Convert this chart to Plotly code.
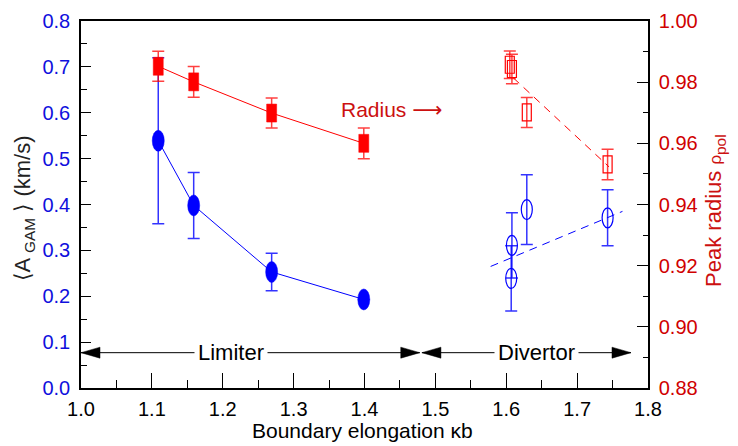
import plotly.graph_objects as go

# ---------------- data ----------------
# Limiter discharges
x_lim = [1.109, 1.159, 1.269, 1.399]
a_lim = [0.539, 0.398, 0.253, 0.193]          # <A_GAM> (km/s), left axis
a_lim_err = [0.181, 0.072, 0.041, 0.0]
rho_lim = [0.9852, 0.9801, 0.9699, 0.9600]     # peak radius, right axis
rho_lim_err = [0.0049, 0.0050, 0.0049, 0.0050]

# Divertor discharges
x_div_a = [1.608, 1.607, 1.629, 1.743]
a_div = [0.311, 0.239, 0.389, 0.371]
a_div_err = [0.071, 0.071, 0.076, 0.061]
x_div_r = [1.605, 1.608, 1.629, 1.743]
rho_div = [0.9857, 0.9843, 0.9701, 0.9531]
rho_div_err = [0.0045, 0.0048, 0.0049, 0.0050]

# Linear fits (dashed) for divertor
fit_a_x = [1.578, 1.764]
fit_a_y = [0.265, 0.385]
fit_r_x = [1.610, 1.745]
fit_r_y = [0.9814, 0.9523]

# Regime arrows
arrow_y = 0.077
limiter_span = [1.0, 1.478]
divertor_span = [1.481, 1.776]
limiter_label_x = 1.212
divertor_label_x = 1.643

x_ticks = [1.0, 1.1, 1.2, 1.3, 1.4, 1.5, 1.6, 1.7, 1.8]

BLUE = "#0000ff"
RED = "#ff0000"
BLUE_TXT = "#1010dd"
RED_TXT = "#d00000"
FONT = "Liberation Sans, Arial"

fig = go.Figure()

# limiter traces (lines + error bars)
fig.add_trace(go.Scatter(
    x=x_lim, y=a_lim, mode="lines", line=dict(color=BLUE, width=1),
    error_y=dict(type="data", array=a_lim_err, visible=True,
                 color="rgba(0,0,255,0.8)", thickness=1.5, width=6),
    yaxis="y", showlegend=False))
fig.add_trace(go.Scatter(
    x=x_lim, y=rho_lim, mode="lines", line=dict(color=RED, width=1),
    error_y=dict(type="data", array=rho_lim_err, visible=True,
                 color="rgba(255,0,0,0.75)", thickness=1.5, width=6),
    yaxis="y2", showlegend=False))

# divertor error bars
fig.add_trace(go.Scatter(
    x=x_div_a, y=a_div, mode="markers",
    marker=dict(size=1, color="rgba(0,0,0,0)"),
    error_y=dict(type="data", array=a_div_err, visible=True,
                 color="rgba(0,0,255,0.8)", thickness=1.5, width=6),
    yaxis="y", showlegend=False))
fig.add_trace(go.Scatter(
    x=x_div_r, y=rho_div, mode="markers",
    marker=dict(size=1, color="rgba(0,0,0,0)"),
    error_y=dict(type="data", array=rho_div_err, visible=True,
                 color="rgba(255,0,0,0.75)", thickness=1.5, width=6),
    yaxis="y2", showlegend=False))

# dashed fits
fig.add_trace(go.Scatter(x=fit_a_x, y=fit_a_y, mode="lines",
                         line=dict(color=BLUE, width=1, dash="8px,6px"),
                         yaxis="y", showlegend=False))
fig.add_trace(go.Scatter(x=fit_r_x, y=fit_r_y, mode="lines",
                         line=dict(color=RED, width=1, dash="8px,6px"),
                         yaxis="y2", showlegend=False))

shapes = []


def marker_shape(kind, x, y, yref, w, h, fill, line_color, lw):
    return dict(type=kind, xref="x", yref=yref,
                xsizemode="pixel", ysizemode="pixel",
                xanchor=x, yanchor=y,
                x0=-w / 2, x1=w / 2, y0=-h / 2, y1=h / 2,
                fillcolor=fill, line=dict(color=line_color, width=lw),
                layer="above")


for x, y in zip(x_lim, a_lim):
    shapes.append(marker_shape("circle", x, y, "y", 12, 21, BLUE, BLUE, 0.5))
for x, y in zip(x_lim, rho_lim):
    shapes.append(marker_shape("rect", x, y, "y2", 10, 18, RED, RED, 0.5))
for x, y in zip(x_div_a, a_div):
    shapes.append(marker_shape("circle", x, y, "y", 11, 20, "rgba(0,0,0,0)", BLUE, 1.2))
for x, y in zip(x_div_r, rho_div):
    shapes.append(marker_shape("rect", x, y, "y2", 9, 17, "rgba(0,0,0,0)", RED, 1.2))

# regime arrows: lines + triangular heads
for span in (limiter_span, divertor_span):
    shapes.append(dict(type="line", xref="x", yref="y",
                       x0=span[0], x1=span[1], y0=arrow_y, y1=arrow_y,
                       line=dict(color="black", width=1), layer="above"))
    shapes.append(dict(type="path", xref="x", yref="y",
                       xsizemode="pixel", ysizemode="pixel",
                       xanchor=span[0], yanchor=arrow_y,
                       path="M0,0 L19,5.5 L19,-5.5 Z",
                       fillcolor="black", line=dict(color="black", width=0.5),
                       layer="above"))
    shapes.append(dict(type="path", xref="x", yref="y",
                       xsizemode="pixel", ysizemode="pixel",
                       xanchor=span[1], yanchor=arrow_y,
                       path="M0,0 L-19,5.5 L-19,-5.5 Z",
                       fillcolor="black", line=dict(color="black", width=0.5),
                       layer="above"))

annotations = [
    dict(x=limiter_label_x, y=arrow_y, xref="x", yref="y", text="Limiter",
         showarrow=False, font=dict(size=22, color="black", family=FONT),
         bgcolor="white", borderpad=3),
    dict(x=divertor_label_x, y=arrow_y, xref="x", yref="y", text="Divertor",
         showarrow=False, font=dict(size=22, color="black", family=FONT),
         bgcolor="white", borderpad=3),
    dict(x=1.438, y=0.606, xref="x", yref="y",
         text="Radius <span style='font-family:DejaVu Sans'>\u27f6</span>",
         showarrow=False, font=dict(size=21, color="#cc1010", family=FONT)),
    # axis titles
    dict(x=-0.1, y=0.49, xref="paper", yref="paper", textangle=-90,
         text="\u27e8A <sub>GAM</sub> \u27e9 (km/s)", showarrow=False,
         font=dict(size=22, color="#222222", family=FONT),
         xanchor="center", yanchor="middle"),
    dict(x=1.118, y=0.485, xref="paper", yref="paper", textangle=-90,
         text="Peak radius <span style='font-size:17px'>\u03c1</span><sub>pol</sub>",
         showarrow=False,
         font=dict(size=22, color="#cc1010", family=FONT),
         xanchor="center", yanchor="middle"),
    dict(x=0.497, y=-0.115, xref="paper", yref="paper",
         text="Boundary elongation \u03bab", showarrow=False,
         font=dict(size=21, color="black", family=FONT),
         xanchor="center", yanchor="middle"),
]

fig.update_layout(
    width=738, height=446,
    margin=dict(l=81, r=90, t=10, b=58),
    paper_bgcolor="white", plot_bgcolor="white",
    font=dict(family=FONT, size=20, color="black"),
    shapes=shapes, annotations=annotations,
    xaxis=dict(range=[1.0, 1.8], tickvals=x_ticks, tickformat=".1f",
               ticks="inside", ticklen=15, tickwidth=1, tickcolor="black",
               minor=dict(ticks="inside", ticklen=8, dtick=0.05, tick0=1.0,
                          tickcolor="black", tickwidth=1),
               showline=True, linecolor="black", linewidth=1.5, mirror=True,
               showgrid=False, zeroline=False,
               tickfont=dict(size=20, color="black"), ticklabelstandoff=2),
    yaxis=dict(range=[0.0, 0.8], dtick=0.1, tick0=0, tickformat=".1f",
               ticks="inside", ticklen=10, tickwidth=1, tickcolor="black",
               minor=dict(ticks="inside", ticklen=6, dtick=0.05, tick0=0,
                          tickcolor="black", tickwidth=1),
               showline=True, linecolor="black", linewidth=1.5,
               showgrid=False, zeroline=False,
               tickfont=dict(size=20, color=BLUE_TXT), ticklabelstandoff=5),
    yaxis2=dict(range=[0.88, 1.00], dtick=0.02, tick0=0.88, tickformat=".2f",
                overlaying="y", side="right",
                ticks="inside", ticklen=11, tickwidth=1, tickcolor="black",
                minor=dict(ticks="inside", ticklen=5, dtick=0.01, tick0=0.88,
                           tickcolor="black", tickwidth=1),
                showline=True, linecolor="black", linewidth=1.5,
                showgrid=False, zeroline=False,
                tickfont=dict(size=20, color=RED_TXT), ticklabelstandoff=5),
)

fig.write_html("out.html")
